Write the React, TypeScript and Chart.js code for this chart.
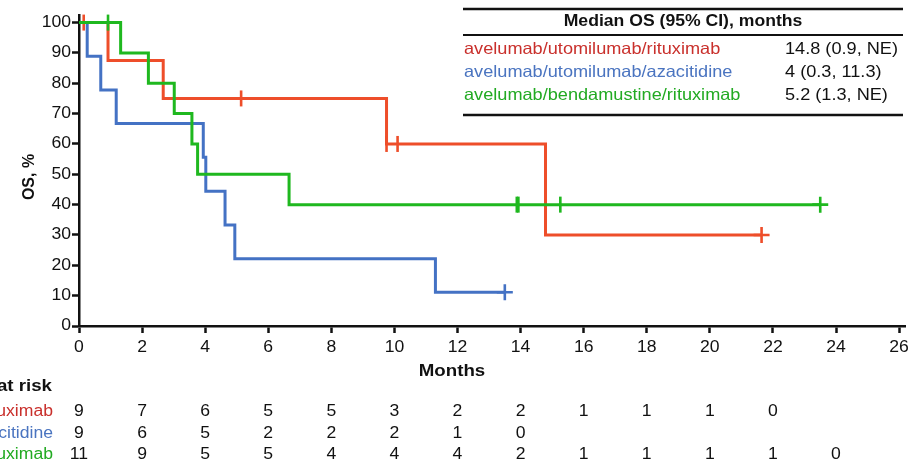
import React, { useEffect, useRef } from "react";
import { Chart, registerables } from "chart.js";

Chart.register(...registerables);

// ---- Data ----
const seriesNames = [
  "avelumab/utomilumab/rituximab",
  "avelumab/utomilumab/azacitidine",
  "avelumab/bendamustine/rituximab",
];
const medianLabels = ["14.8 (0.9, NE)", "4 (0.3, 11.3)", "5.2 (1.3, NE)"];

// Kaplan-Meier steps: event times (months) and survival (%) after each
const redTimes = [0, 0.92, 2.67, 9.75, 14.79, 21.64];
const redSurv = [100, 87.5, 75, 60, 30, 30];
const redCensor = [0.15, 5.14, 9.75, 10.1, 21.64];

const blueTimes = [0, 0.26, 0.69, 1.18, 3.94, 4.02, 4.63, 4.94, 11.3, 13.5];
const blueSurv = [100, 88.9, 77.8, 66.7, 55.6, 44.4, 33.3, 22.2, 11.1, 11.1];
const blueCensor = [13.5];

const greenTimes = [0, 1.32, 2.2, 3.02, 3.58, 3.76, 6.66, 23.5];
const greenSurv = [100, 90, 80, 70, 60, 50, 40, 40];
const greenCensor = [0.92, 13.88, 13.93, 15.26, 23.5];

const xTicks = [0, 2, 4, 6, 8, 10, 12, 14, 16, 18, 20, 22, 24, 26];
const yTicks = [0, 10, 20, 30, 40, 50, 60, 70, 80, 90, 100];

const riskTimes = [0, 2, 4, 6, 8, 10, 12, 14, 16, 18, 20, 22, 24];
const redRisk = [9, 7, 6, 5, 5, 3, 2, 2, 1, 1, 1, 0];
const blueRisk = [9, 6, 5, 2, 2, 2, 1, 0];
const greenRisk = [11, 9, 5, 5, 4, 4, 4, 2, 1, 1, 1, 1, 0];

const lineColors = ["#EE4E2A", "#4472C4", "#1FB81F"];
const textColors = ["#C9302C", "#4A74C0", "#22AA22"];

const FONT = "'Liberation Sans', Arial, Helvetica, sans-serif";
const SX = 1.1; // horizontal stretch of the reference text

function stepAt(times: number[], surv: number[], t: number) {
  let v = surv[0];
  for (let i = 0; i < times.length; i++) if (times[i] <= t) v = surv[i];
  return v;
}

function curve(times: number[], surv: number[]) {
  return times.map((t, i) => ({ x: t, y: surv[i] }));
}
function censorPts(times: number[], surv: number[], c: number[]) {
  return c.map((t) => ({ x: t, y: stepAt(times, surv, t) }));
}

function txt(ctx: CanvasRenderingContext2D, s: string, x: number, y: number, align: CanvasTextAlign) {
  ctx.save();
  ctx.translate(x, y);
  ctx.scale(SX, 1);
  ctx.textAlign = align;
  ctx.textBaseline = "middle";
  ctx.fillText(s, 0, 0);
  ctx.restore();
}

export default function App() {
  const ref = useRef<HTMLCanvasElement | null>(null);

  useEffect(() => {
    if (!ref.current) return;
    const all = [
      { times: redTimes, surv: redSurv, c: redCensor },
      { times: blueTimes, surv: blueSurv, c: blueCensor },
      { times: greenTimes, surv: greenSurv, c: greenCensor },
    ];
    const datasets: any[] = [];
    all.forEach((s, i) => {
      datasets.push({
        type: "line",
        data: curve(s.times, s.surv),
        stepped: "before",
        borderColor: lineColors[i],
        borderWidth: 3,
        pointRadius: 0,
        fill: false,
        clip: false,
        order: 3 - i,
      });
      const cp = censorPts(s.times, s.surv, s.c);
      datasets.push({
        type: "line",
        data: cp,
        showLine: false,
        borderColor: lineColors[i],
        backgroundColor: lineColors[i],
        pointBorderColor: lineColors[i],
        pointBorderWidth: 2.6,
        pointRadius: 8,
        pointStyle: (ctx: any) => (ctx.dataIndex === cp.length - 1 ? "cross" : "line"),
        pointRotation: (ctx: any) => (ctx.dataIndex === cp.length - 1 ? 0 : 90),
        clip: false,
        order: 3 - i,
      });
    });

    const overlay = {
      id: "overlay",
      afterDraw(chart: any) {
        const ctx = chart.ctx as CanvasRenderingContext2D;
        const xs = chart.scales.x;
        const ys = chart.scales.y;
        ctx.save();
        ctx.fillStyle = "#111";
        // tick labels
        ctx.font = `16px ${FONT}`;
        xTicks.forEach((v) => txt(ctx, String(v), xs.getPixelForValue(v), 348, "center"));
        yTicks.forEach((v) => txt(ctx, String(v), 71, ys.getPixelForValue(v), "right"));

        // x title
        ctx.font = `bold 17px ${FONT}`;
        txt(ctx, "Months", 452, 371, "center");
        // y title
        ctx.save();
        ctx.translate(30, 177);
        ctx.rotate(-Math.PI / 2);
        ctx.textAlign = "center";
        ctx.textBaseline = "middle";
        ctx.font = `bold 16px ${FONT}`;
        ctx.fillText("OS, %", 0, 0);
        ctx.restore();

        // number at risk
        ctx.font = `bold 17px ${FONT}`;
        txt(ctx, "Number at risk", 52, 386, "right");
        const risks = [redRisk, blueRisk, greenRisk];
        const rowY = [412, 434, 455];
        risks.forEach((r, i) => {
          ctx.font = `16px ${FONT}`;
          ctx.fillStyle = textColors[i];
          txt(ctx, seriesNames[i], 53, rowY[i], "right");
          ctx.fillStyle = "#111";
          r.forEach((v, j) => {
            txt(ctx, String(v), xs.getPixelForValue(riskTimes[j]), rowY[i], "center");
          });
        });

        // median table
        const tl = 463, tr = 903;
        ctx.fillStyle = "#fff";
        ctx.fillRect(tl, 9, tr - tl, 106);
        ctx.strokeStyle = "#111";
        ctx.lineWidth = 2.5;
        ctx.beginPath();
        ctx.moveTo(tl, 9); ctx.lineTo(tr, 9);
        ctx.moveTo(tl, 115); ctx.lineTo(tr, 115);
        ctx.stroke();
        ctx.lineWidth = 2;
        ctx.beginPath();
        ctx.moveTo(tl, 35); ctx.lineTo(tr, 35);
        ctx.stroke();
        ctx.font = `bold 16px ${FONT}`;
        ctx.fillStyle = "#111";
        txt(ctx, "Median OS (95% CI), months", 683, 22, "center");
        const ty = [49, 72, 95];
        ctx.font = `16.5px ${FONT}`;
        seriesNames.forEach((n, i) => {
          ctx.fillStyle = textColors[i];
          txt(ctx, n, 464, ty[i], "left");
          ctx.fillStyle = "#111";
          txt(ctx, medianLabels[i], 785, ty[i], "left");
        });
        ctx.restore();
      },
    };

    const chart = new Chart(ref.current, {
      type: "line",
      data: { datasets },
      options: {
        animation: false,
        responsive: false,
        events: [],
        layout: { padding: { top: 15, right: 7, left: 0, bottom: 0 } },
        plugins: { legend: { display: false }, tooltip: { enabled: false } },
        scales: {
          x: {
            type: "linear",
            min: 0,
            max: 26.2,
            afterBuildTicks: (s: any) => {
              s.ticks = xTicks.map((v) => ({ value: v }));
            },
            afterFit: (s: any) => {
              s.height = 139;
            },
            ticks: { display: false, autoSkip: false },
            grid: { display: true, drawOnChartArea: false, drawTicks: true, tickLength: 7, tickWidth: 2.5, tickColor: "#111" },
            border: { display: true, color: "#111", width: 2.5 },
          },
          y: {
            type: "linear",
            min: 0,
            max: 102.5,
            afterBuildTicks: (s: any) => {
              s.ticks = yTicks.map((v) => ({ value: v }));
            },
            afterFit: (s: any) => {
              s.width = 79;
            },
            ticks: { display: false, autoSkip: false },
            grid: { display: true, drawOnChartArea: false, drawTicks: true, tickLength: 7, tickWidth: 2.5, tickColor: "#111" },
            border: { display: true, color: "#111", width: 2.5 },
          },
        },
      },
      plugins: [overlay],
    } as any);
    return () => chart.destroy();
  }, []);

  return (
    <div style={{ position: "fixed", left: 0, top: 0, width: 916, height: 465, background: "#fff" }}>
      <canvas ref={ref} width={916} height={465} style={{ width: 916, height: 465, display: "block" }} />
    </div>
  );
}
